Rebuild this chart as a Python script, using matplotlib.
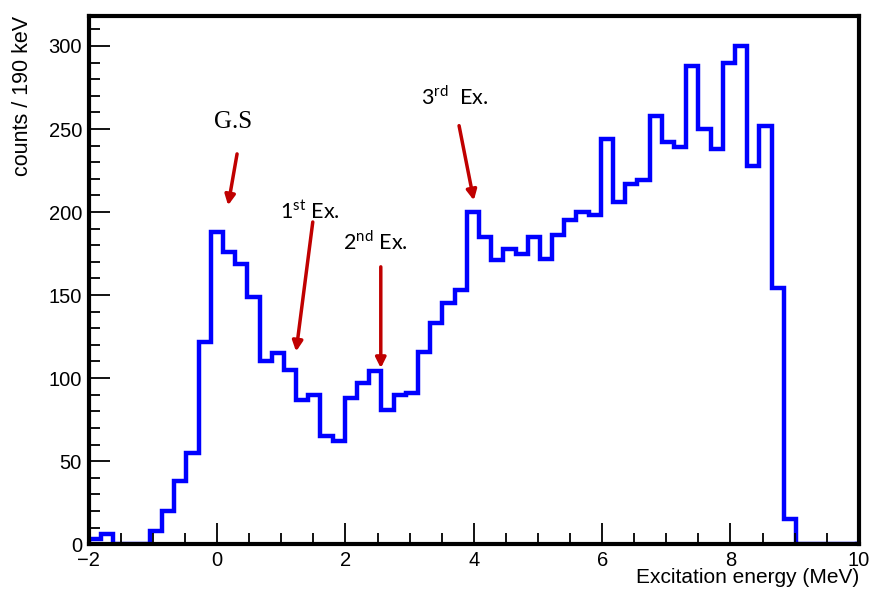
import numpy as np
import matplotlib
matplotlib.use("Agg")
import matplotlib.pyplot as plt
from matplotlib.ticker import MultipleLocator

# histogram: 190 keV bins starting at -2 MeV
bin_start = -2.0
bin_width = 0.19
counts = [3, 6, 0, 0, 0, 8, 20, 38, 55, 122,
          188, 176, 169, 149, 110, 115, 105, 87, 90, 65,
          62, 88, 97, 104, 81, 90, 91, 116, 133, 145,
          153, 200, 185, 171, 178, 175, 185, 172, 186, 195,
          200, 198, 244, 206, 217, 219, 258, 242, 239, 288,
          250, 238, 290, 300, 228, 252, 154, 15, 0, 0,
          0, 0, 0]

xticks = [-2, 0, 2, 4, 6, 8, 10]
xtick_labels = ['\u22122', '0', '2', '4', '6', '8', '10']
yticks = [0, 50, 100, 150, 200, 250, 300]

# labels for the peaks: text position, arrow start, arrow end
peak_labels = ["G.S", "1$^{\\rm st}$ Ex.", "2$^{\\rm nd}$ Ex.", "3$^{\\rm rd}$  Ex."]
label_pos = [(0.24, 254), (1.44, 200), (2.47, 182), (3.70, 269)]
arrow_from = [(0.31, 235), (1.49, 194), (2.55, 167), (3.77, 252)]
arrow_to = [(0.17, 204), (1.23, 116), (2.55, 106), (4.00, 207)]

plt.rcParams['mathtext.fontset'] = 'custom'
plt.rcParams['mathtext.rm'] = 'Lato'
plt.rcParams['font.family'] = 'Liberation Sans'

edges = bin_start + bin_width * np.arange(len(counts) + 1)

fig = plt.figure(figsize=(8.71, 5.96), dpi=100)
ax = fig.add_axes([0.102, 0.087, 0.884, 0.886])

ax.stairs(counts, edges, color='#0000FF', lw=3.2)
ax.plot([edges[-1], 10], [0, 0], color='#0000FF', lw=3.2)

ax.set_xlim(-2, 10)
ax.set_ylim(0, 318)

for s in ax.spines.values():
    s.set_linewidth(3)

ax.set_xticks(xticks)
ax.set_xticklabels(xtick_labels, fontsize=14.5)
ax.set_yticks(yticks)
ax.set_yticklabels([str(v) for v in yticks], fontsize=14.5)
ax.xaxis.set_minor_locator(MultipleLocator(0.5))
ax.yaxis.set_minor_locator(MultipleLocator(10))
ax.tick_params(which='both', direction='in', top=False, right=False, width=1.3)
ax.tick_params(which='major', length=15)
ax.tick_params(which='minor', length=8)
ax.tick_params(axis='x', pad=5)
ax.tick_params(axis='y', pad=5)

ax.set_xlabel('Excitation energy (MeV)', fontsize=15)
ax.xaxis.set_label_coords(1.0, -0.046)
ax.xaxis.label.set_horizontalalignment('right')
ax.xaxis.label.set_verticalalignment('top')
ax.set_ylabel('counts / 190 keV', fontsize=15.5)
ax.yaxis.set_label_coords(-0.073, 1.0)
ax.yaxis.label.set_horizontalalignment('right')

for i in range(len(peak_labels)):
    fam = 'Liberation Serif' if i == 0 else 'Lato'
    size = 18 if i == 0 else 15.5
    ax.text(label_pos[i][0], label_pos[i][1], peak_labels[i], ha='center', va='center',
            fontsize=size, family=fam)
    ax.annotate('', xy=arrow_to[i], xytext=arrow_from[i],
                arrowprops=dict(arrowstyle='-|>', color='#C00000', lw=2.5,
                                mutation_scale=15, shrinkA=0, shrinkB=0))

fig.savefig('out.png', dpi=100)
